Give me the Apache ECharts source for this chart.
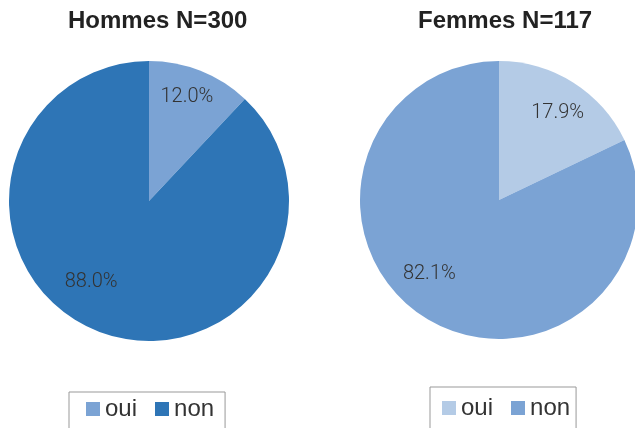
<!DOCTYPE html>
<html>
<head>
<meta charset="utf-8">
<script src="https://cdn.jsdelivr.net/npm/echarts@6/dist/echarts.min.js"></script>
<style>
  html, body { margin: 0; padding: 0; background: #fff; }
  #chart { width: 635px; height: 428px; }
</style>
</head>
<body>
<div id="chart"></div>
<script>
const categories = ['oui', 'non']
const hommesValues = [12.0, 88.0]
const femmesValues = [17.9, 82.1]
const titles = ['Hommes N=300', 'Femmes N=117']

const hommesColors = ['#7ba3d4', '#2e75b6']
const femmesColors = ['#b4cbe6', '#7ba3d4']

// label offsets to mimic the original placement
const hommesOffsets = [[11, -36], [-31, 13]]
const femmesOffsets = [[20, -26], [-31, 13]]

const buildData = (values, colors, offsets) =>
  categories.map((name, i) => ({
    name,
    value: values[i],
    itemStyle: { color: colors[i] },
    label: { offset: offsets[i] }
  }))

const chart = echarts.init(document.getElementById('chart'))

const labelStyle = {
  show: true,
  position: 'inside',
  formatter: p => p.value.toFixed(1) + '%',
  fontFamily: 'Roboto',
  fontWeight: 300,
  fontSize: 20,
  color: '#333'
}

const legendBase = {
  orient: 'horizontal',
  icon: 'rect',
  itemWidth: 14,
  itemHeight: 14,
  itemGap: 18,
  borderColor: '#999',
  borderWidth: 1,
  borderRadius: 0,
  selectedMode: false,
  textStyle: { fontFamily: 'Liberation Sans', fontSize: 24, color: '#333', lineHeight: 24 }
}

const titleStyle = { fontFamily: 'Liberation Sans', fontWeight: 'bold', fontSize: 24, color: '#222' }

const option = {
  animation: false,
  title: [
    { text: titles[0], left: 68, top: 9, padding: 0, textStyle: titleStyle },
    { text: titles[1], left: 418, top: 9, padding: 0, textStyle: titleStyle }
  ],
  legend: [
    {
      ...legendBase,
      left: 69,
      top: 392,
      padding: [5, 11, 20, 17],
      data: categories.map((name, i) => ({ name, itemStyle: { color: hommesColors[i] } }))
    },
    {
      ...legendBase,
      left: 430,
      top: 387,
      padding: [9, 6, 20, 12],
      data: categories.map((name, i) => ({ name, itemStyle: { color: femmesColors[i] } }))
    }
  ],
  series: [
    {
      name: titles[0],
      type: 'pie',
      center: [149, 201],
      radius: 140,
      startAngle: 90,
      clockwise: true,
      label: labelStyle,
      labelLine: { show: false },
      emphasis: { disabled: true },
      data: buildData(hommesValues, hommesColors, hommesOffsets)
    },
    {
      name: titles[1],
      type: 'pie',
      center: [499, 200],
      radius: 139,
      startAngle: 90,
      clockwise: true,
      label: labelStyle,
      labelLine: { show: false },
      emphasis: { disabled: true },
      data: buildData(femmesValues, femmesColors, femmesOffsets)
    }
  ]
}

chart.setOption(option)
</script>
</body>
</html>
